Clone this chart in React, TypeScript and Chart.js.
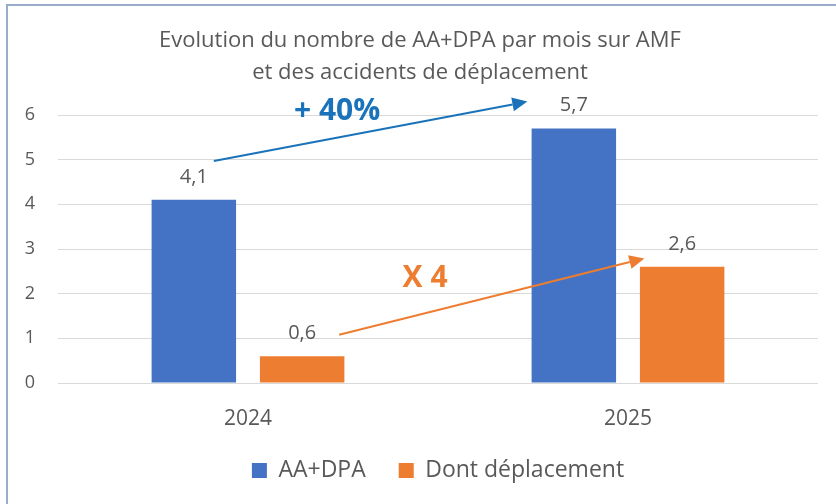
import React, { useEffect, useRef } from "react";
import { Chart, registerables } from "chart.js";

Chart.register(...registerables);

// ---- data ----
const categories = ["2024", "2025"];
const seriesNames = ["AA+DPA", "Dont déplacement"];
const aaDpa = [4.1, 5.7];
const deplacement = [0.6, 2.6];
const yTickValues = [0, 1, 2, 3, 4, 5, 6];
const titleLines = [
  "Evolution du nombre de AA+DPA par mois sur AMF",
  "et des accidents de déplacement",
];
const arrowLabels = ["+ 40%", "X 4"];

// ---- styles ----
const FONT = "'Open Sans', 'Liberation Sans', sans-serif";
const TEXT = "#595959";
const BLUE = "#4472C4";
const ORANGE = "#ED7D31";
const ARROW_BLUE = "#1A73BA";

// annotation anchors in data coordinates (category index, value)
const annotations = [
  { from: [-0.09, 4.97], to: [0.735, 6.3], labelAt: [0.2345, 6.09], color: ARROW_BLUE, label: arrowLabels[0] },
  { from: [0.24, 1.08], to: [1.043, 2.79], labelAt: [0.466, 2.34], color: ORANGE, label: arrowLabels[1] },
];

const fmt = (v: number) => v.toString().replace(".", ",");

const dataLabelPlugin = {
  id: "dataLabels",
  afterDatasetsDraw(chart: any) {
    const ctx = chart.ctx;
    ctx.save();
    ctx.font = `20px ${FONT}`;
    ctx.fillStyle = TEXT;
    ctx.textAlign = "center";
    ctx.textBaseline = "middle";
    chart.data.datasets.forEach((ds: any, di: number) => {
      const meta = chart.getDatasetMeta(di);
      meta.data.forEach((el: any, i: number) => {
        ctx.fillText(fmt(ds.data[i]), el.x, el.y - 23);
      });
    });
    ctx.restore();
  },
};

const arrowPlugin = {
  id: "arrows",
  afterDraw(chart: any) {
    const ctx = chart.ctx;
    const xs = chart.scales.x;
    const ys = chart.scales.y;
    ctx.save();
    annotations.forEach((a) => {
      const x1 = xs.getPixelForValue(a.from[0]);
      const y1 = ys.getPixelForValue(a.from[1]);
      const x2 = xs.getPixelForValue(a.to[0]);
      const y2 = ys.getPixelForValue(a.to[1]);
      const ang = Math.atan2(y2 - y1, x2 - x1);
      const headLen = 15;
      const headW = 7;
      const bx = x2 - headLen * Math.cos(ang);
      const by = y2 - headLen * Math.sin(ang);
      ctx.strokeStyle = a.color;
      ctx.fillStyle = a.color;
      ctx.lineWidth = 2;
      ctx.beginPath();
      ctx.moveTo(x1, y1);
      ctx.lineTo(bx, by);
      ctx.stroke();
      ctx.beginPath();
      ctx.moveTo(x2, y2);
      ctx.lineTo(bx + headW * Math.sin(ang), by - headW * Math.cos(ang));
      ctx.lineTo(bx - headW * Math.sin(ang), by + headW * Math.cos(ang));
      ctx.closePath();
      ctx.fill();
      ctx.font = `bold 30px ${FONT}`;
      ctx.textAlign = "center";
      ctx.textBaseline = "middle";
      ctx.fillText(a.label, xs.getPixelForValue(a.labelAt[0]), ys.getPixelForValue(a.labelAt[1]));
    });
    ctx.restore();
  },
};

export default function App() {
  const ref = useRef<HTMLCanvasElement | null>(null);

  useEffect(() => {
    if (!ref.current) return;
    const chart = new Chart(ref.current, {
      type: "bar",
      data: {
        labels: categories,
        datasets: [
          { label: seriesNames[0], data: aaDpa, backgroundColor: BLUE, borderWidth: 0 },
          { label: seriesNames[1], data: deplacement, backgroundColor: ORANGE, borderWidth: 0 },
        ],
      },
      options: {
        responsive: false,
        animation: false,
        events: [],
        datasets: { bar: { categoryPercentage: 0.57, barPercentage: 0.78 } },
        layout: { padding: { left: 22, right: 18, top: 0, bottom: 12 } },
        plugins: {
          title: {
            display: true,
            text: titleLines,
            color: TEXT,
            font: { family: FONT, size: 22, weight: "normal", lineHeight: 32 / 22 },
            padding: { top: 25, bottom: 26 },
          },
          legend: {
            position: "bottom",
            fullSize: false,
            labels: {
              boxWidth: 15,
              boxHeight: 15,
              padding: 33,
              color: TEXT,
              font: { family: FONT, size: 23 },
            },
          },
          tooltip: { enabled: false },
        },
        scales: {
          x: {
            grid: { display: false },
            border: { display: false },
            ticks: { color: TEXT, font: { family: FONT, size: 21 }, padding: 15 },
            afterFit: (s: any) => { s.height = 43; },
          },
          y: {
            min: 0,
            max: 6,
            afterBuildTicks: (s: any) => { s.ticks = yTickValues.map((v) => ({ value: v })); },
            grid: { color: "#D9D9D9", lineWidth: 1, drawTicks: false },
            border: { display: false },
            ticks: { color: TEXT, font: { family: FONT, size: 18 }, padding: 23 },
            afterFit: (s: any) => { s.width = 36; },
          },
        },
      },
      plugins: [dataLabelPlugin, arrowPlugin],
    } as any);
    return () => chart.destroy();
  }, []);

  return (
    <div style={{ position: "absolute", left: 0, top: 0, width: 836, height: 504, overflow: "hidden", background: "#fff" }}>
      <canvas ref={ref} width={836} height={504} style={{ width: 836, height: 504, display: "block" }} />
      <div
        style={{
          position: "absolute",
          left: 6,
          top: 4,
          width: 1000,
          height: 1000,
          border: "2px solid #9AACCB",
          pointerEvents: "none",
        }}
      />
    </div>
  );
}
